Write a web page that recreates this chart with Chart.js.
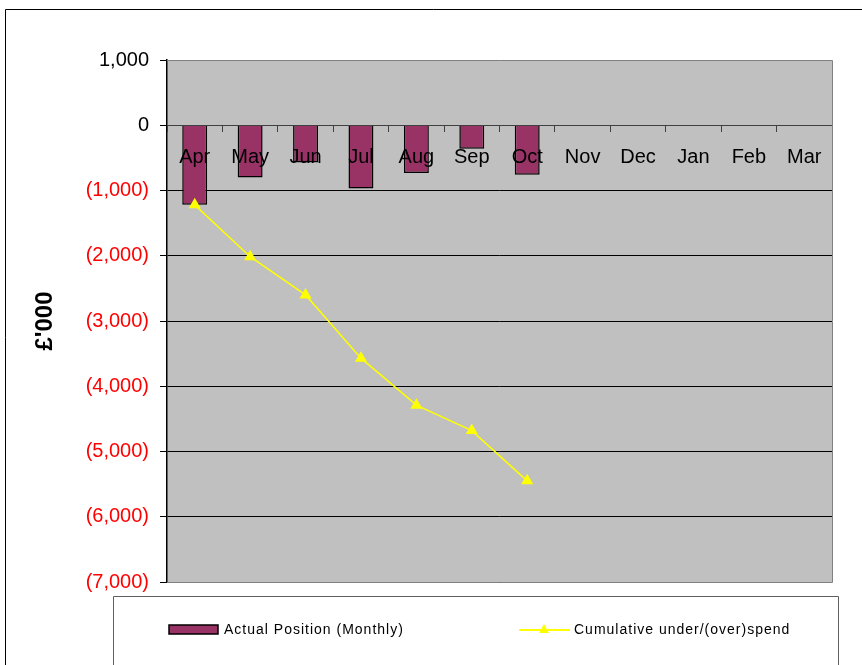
<!DOCTYPE html>
<html>
<head>
<meta charset="utf-8">
<script src="https://cdn.jsdelivr.net/npm/chart.js@4"></script>
<style>
  html, body { margin: 0; padding: 0; background: #fff; }
  #wrap { width: 862px; height: 665px; position: relative; }
</style>
</head>
<body>
<div id="wrap"><canvas id="chart" width="862" height="665"></canvas></div>
<script>
// chart data
const months = ['Apr', 'May', 'Jun', 'Jul', 'Aug', 'Sep', 'Oct', 'Nov', 'Dec', 'Jan', 'Feb', 'Mar'];
const monthly = [-1220, -800, -570, -970, -730, -360, -760, null, null, null, null, null];
const cumulative = [-1220, -2015, -2600, -3570, -4290, -4680, -5450, null, null, null, null, null];
const seriesNames = ['Actual Position (Monthly)', 'Cumulative under/(over)spend'];
const axisTitle = "£'000";

const FONT = "'Liberation Sans', Arial, sans-serif";

function fmt(v) {
    const s = Math.abs(v).toLocaleString('en-GB');
    return v < 0 ? '(' + s + ')' : s;
}

// grey plot background, borders and the excel style legend
const frame = {
    id: 'frame',
    beforeDraw(chart) {
        const c = chart.ctx, a = chart.chartArea;
        c.save();
        c.fillStyle = '#c0c0c0';
        c.fillRect(a.left, a.top, a.right - a.left, a.bottom - a.top);
        // outer border
        c.strokeStyle = '#000';
        c.lineWidth = 1;
        c.beginPath();
        c.moveTo(5.5, 665);
        c.lineTo(5.5, 9.5);
        c.lineTo(862, 9.5);
        c.stroke();
        c.restore();
    },
    afterDraw(chart) {
        const c = chart.ctx, a = chart.chartArea;
        c.save();
        c.strokeStyle = '#808080';
        c.lineWidth = 1;
        c.beginPath();
        c.moveTo(a.left, a.top + 0.5);
        c.lineTo(a.right + 0.5, a.top + 0.5);
        c.lineTo(a.right + 0.5, a.bottom + 0.5);
        c.lineTo(a.left, a.bottom + 0.5);
        c.stroke();

        // legend box
        c.strokeStyle = '#606060';
        c.beginPath();
        c.moveTo(113.5, 665);
        c.lineTo(113.5, 596.5);
        c.lineTo(838.5, 596.5);
        c.lineTo(838.5, 665);
        c.stroke();

        const ds = chart.data.datasets;
        const bar = ds.find(d => d.type === 'bar');
        const line = ds.find(d => d.type === 'line');
        const y = 630;
        c.font = '14px ' + FONT;
        c.letterSpacing = '1px';
        c.textBaseline = 'middle';

        c.fillStyle = bar.backgroundColor;
        c.fillRect(169, 625, 49, 9);
        c.strokeStyle = '#000';
        c.lineWidth = 1.5;
        c.strokeRect(169, 625, 49, 9);
        c.fillStyle = '#000';
        c.fillText(bar.label, 224, y);

        c.strokeStyle = line.borderColor;
        c.lineWidth = 2;
        c.beginPath();
        c.moveTo(519, y);
        c.lineTo(570, y);
        c.stroke();
        c.fillStyle = line.borderColor;
        c.beginPath();
        c.moveTo(544, y - 6);
        c.lineTo(549, y + 3);
        c.lineTo(539, y + 3);
        c.closePath();
        c.fill();
        c.fillStyle = '#000';
        c.fillText(line.label, 574, y);
        c.restore();
    }
};

const ctx = document.getElementById('chart').getContext('2d');
new Chart(ctx, {
    type: 'bar',
    data: {
        labels: months,
        datasets: [{
            type: 'bar',
            label: seriesNames[0],
            data: monthly,
            backgroundColor: '#993366',
            borderColor: '#000',
            borderWidth: 1.5,
            barPercentage: 0.45,
            categoryPercentage: 1,
            order: 1
        }, {
            type: 'line',
            label: seriesNames[1],
            data: cumulative,
            borderColor: '#ffff00',
            backgroundColor: '#ffff00',
            borderWidth: 1.5,
            pointStyle: 'triangle',
            pointRadius: 7,
            pointBorderWidth: 0,
            pointHoverRadius: 7,
            spanGaps: false,
            order: 0
        }]
    },
    options: {
        responsive: false,
        animation: false,
        layout: { padding: { left: 0, top: 60, right: 30, bottom: 83 } },
        plugins: {
            legend: { display: false },
            tooltip: { enabled: false }
        },
        scales: {
            x: {
                position: { y: 0 },
                offset: true,
                grid: {
                    offset: true,
                    drawOnChartArea: false,
                    drawTicks: true,
                    tickLength: 6,
                    tickColor: '#404040',
                    tickWidth: 1,
                    z: 1
                },
                border: { color: '#404040', width: 1, z: 1 },
                ticks: {
                    z: 1,
                    color: '#000',
                    font: { family: FONT, size: 20 },
                    padding: 14,
                    maxRotation: 0,
                    autoSkip: false
                }
            },
            y: {
                min: -7000,
                max: 1000,
                afterFit(scale) { scale.width = 167; },
                ticks: {
                    stepSize: 1000,
                    padding: 11,
                    font: { family: FONT, size: 20 },
                    color: c => (c.tick && c.tick.value < 0) ? '#ff0000' : '#000',
                    callback: v => fmt(v)
                },
                grid: {
                    color: c => (c.tick && c.tick.value === 1000) ? 'rgba(0,0,0,0)' : '#000',
                    lineWidth: 1,
                    tickLength: 7,
                    tickColor: '#000'
                },
                border: { color: '#000', width: 1.5 },
                title: {
                    display: true,
                    text: axisTitle,
                    color: '#000',
                    font: { family: FONT, size: 24, weight: 'bold' },
                    padding: { top: 31, bottom: 0 }
                }
            }
        }
    },
    plugins: [frame]
});
</script>
</body>
</html>
